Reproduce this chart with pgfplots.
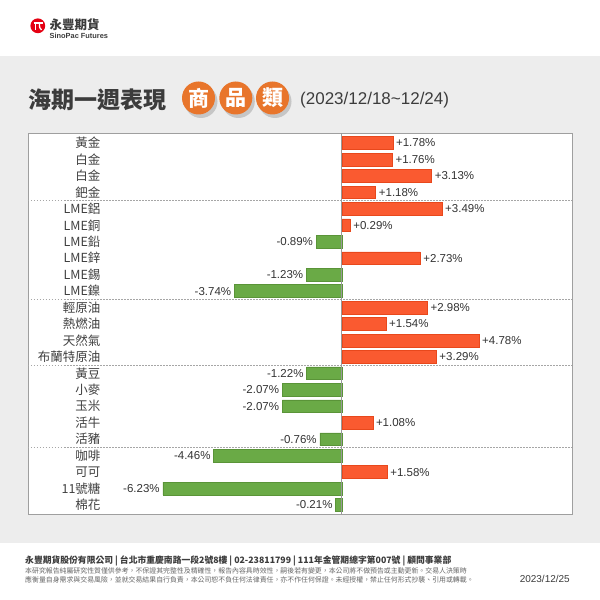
\documentclass[border=0pt]{standalone}
\usepackage{fontspec}
\usepackage{pgfplots}
\usepackage{pgfplotstable}
\pgfplotsset{compat=1.18}
\setmainfont{Liberation Sans}
\newfontfamily\cjk{Noto Sans CJK TC}
\definecolor{pos}{HTML}{FA5A30}
\definecolor{posb}{HTML}{E8481C}
\definecolor{neg}{HTML}{6AAA46}
\definecolor{negb}{HTML}{5A9438}
\definecolor{bandgray}{HTML}{EDEDED}
\definecolor{ttl}{HTML}{3C3C3C}
\definecolor{lblc}{HTML}{404040}
\definecolor{valc}{HTML}{333333}
\definecolor{circ}{HTML}{E8752B}
\definecolor{logored}{HTML}{E50012}

\pgfplotstableread{
r v
0 1.78
1 1.76
2 3.13
3 1.18
4 3.49
5 0.29
7 2.73
10 2.98
11 1.54
12 4.78
13 3.29
17 1.08
20 1.58
}\postab

\pgfplotstableread{
r v
6 -0.89
8 -1.23
9 -3.74
14 -1.22
15 -2.07
16 -2.07
18 -0.76
19 -4.46
21 -6.23
22 -0.21
}\negtab

\begin{document}
\begin{tikzpicture}
\useasboundingbox (0pt,0pt) rectangle (600pt,600pt);
\fill[white] (0pt,0pt) rectangle (600pt,600pt);
\fill[bandgray] (0pt,57pt) rectangle (600pt,544pt);
% logo
\fill[logored] (37.8pt,574.2pt) circle (7.4pt);
\draw[white, line width=1.3pt] (33.5pt,577pt) -- (42.5pt,577pt);
\draw[white, line width=1.3pt] (35.5pt,577pt) -- (35.5pt,570pt);
\draw[white, line width=1.3pt] (39.5pt,577pt) .. controls (39.5pt,572pt) .. (41.5pt,570pt);
\node[anchor=west, inner sep=0, text=ttl, font=\cjk\bfseries\fontsize{12.5}{14}\selectfont] at (49.5pt,575pt) {永豐期貨};
\node[anchor=west, inner sep=0, text=ttl, font=\bfseries\fontsize{7.4}{8}\selectfont] at (49.5pt,564.5pt) {SinoPac Futures};
% title
\node[anchor=west, inner sep=0, text=ttl, font=\cjk\bfseries\fontsize{23}{25}\selectfont] at (28pt,500.5pt) {海期一週表現};
\foreach \cx/\ch in {198.5/商, 235.8/品, 272.5/類} {
  \fill[gray!45] (\cx pt+2.5pt,498.5pt) circle (16.5pt);
  \fill[circ] (\cx pt,502pt) circle (16.5pt);
  \node[text=white, font=\cjk\bfseries\fontsize{21}{22}\selectfont] at (\cx pt,502pt) {\ch};
}
\node[anchor=west, inner sep=0, text=ttl, font=\fontsize{17}{19}\selectfont] at (300pt,500pt) {(2023/12/18\textasciitilde12/24)};

\begin{axis}[at={(28pt,86pt)}, anchor=south west, scale only axis,
  width=544pt, height=381pt,
  xmin=-10.93, xmax=8.02, ymin=-0.61, ymax=22.55, y dir=reverse,
  axis background/.style={fill=white},
  axis line style={draw=gray!75, line width=0.8pt},
  xtick=\empty, ytick={0,...,22},
  yticklabels={黃金,白金,白金,鈀金,LME鋁,LME銅,LME鉛,LME鋅,LME錫,LME鎳,輕原油,熱燃油,天然氣,布蘭特原油,黃豆,小麥,玉米,活牛,活豬,咖啡,可可,11號糖,棉花},
  major tick length=0pt,
  yticklabel style={font=\cjk\fontsize{12.5}{14}\selectfont, text=lblc, anchor=east, xshift=76pt},
  clip=false]
\addplot[forget plot, draw=gray!70, dash pattern=on 1.5pt off 1.5pt, line width=0.6pt] coordinates {(-10.93,3.5) (8.02,3.5)};
\addplot[forget plot, draw=gray!70, dash pattern=on 1.5pt off 1.5pt, line width=0.6pt] coordinates {(-10.93,9.5) (8.02,9.5)};
\addplot[forget plot, draw=gray!70, dash pattern=on 1.5pt off 1.5pt, line width=0.6pt] coordinates {(-10.93,13.5) (8.02,13.5)};
\addplot[forget plot, draw=gray!70, dash pattern=on 1.5pt off 1.5pt, line width=0.6pt] coordinates {(-10.93,18.5) (8.02,18.5)};
\addplot[xbar, bar width=12.7pt, bar shift=0pt, fill=pos, draw=posb, line width=0.5pt,
  point meta=x,
  nodes near coords={\pgfmathprintnumber[fixed,zerofill,precision=2,showpos,assume math mode=true]{\pgfplotspointmeta}\%},
  every node near coord/.append style={anchor=west, font=\fontsize{11.5}{13}\selectfont, text=valc, inner sep=3pt}]
  table[x=v,y=r] {\postab};
\addplot[xbar, bar width=12.7pt, bar shift=0pt, fill=neg, draw=negb, line width=0.5pt,
  point meta=x,
  nodes near coords={\pgfmathprintnumber[fixed,zerofill,precision=2,assume math mode=true]{\pgfplotspointmeta}\%},
  every node near coord/.append style={anchor=east, font=\fontsize{11.5}{13}\selectfont, text=valc, inner sep=3pt}]
  table[x=v,y=r] {\negtab};
\addplot[forget plot, draw=gray!80, line width=0.7pt] coordinates {(0,-0.61) (0,22.55)};
\end{axis}

% footer
\node[anchor=west, inner sep=0, text=ttl, font=\cjk\bfseries\fontsize{8.8}{10}\selectfont] at (25pt,39.5pt) {永豐期貨股份有限公司 | 台北市重慶南路一段2號8樓 | 02-23811799 | 111年金管期總字第007號 | 顧問事業部};
\node[anchor=west, inner sep=0, text=gray!80!black, font=\cjk\fontsize{6.9}{8}\selectfont] at (25pt,29.5pt) {本研究報告純屬研究性質僅供參考，不保證其完整性及精確性，報告內容具時效性，嗣後若有變更，本公司將不做預告或主動更新。交易人決策時};
\node[anchor=west, inner sep=0, text=gray!80!black, font=\cjk\fontsize{6.9}{8}\selectfont] at (25pt,20pt) {應衡量自身需求與交易風險，並就交易結果自行負責，本公司恕不負任何法律責任，亦不作任何保證。未經授權，禁止任何形式抄襲、引用或轉載。};
\node[anchor=east, inner sep=0, text=ttl, font=\fontsize{10}{12}\selectfont] at (570pt,21pt) {2023/12/25};
\end{tikzpicture}
\end{document}
